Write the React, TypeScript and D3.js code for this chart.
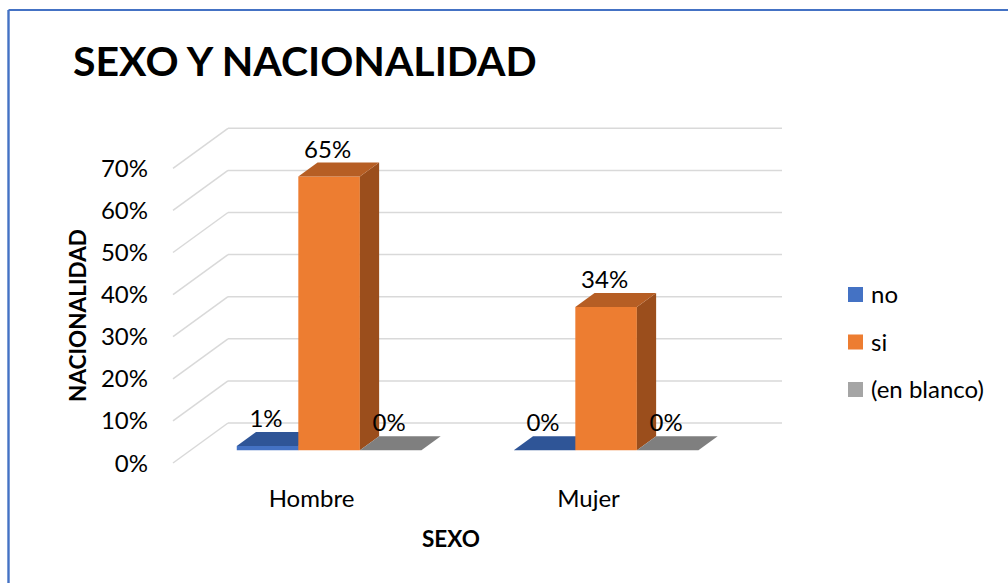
import React from "react";
import * as d3 from "d3";

const categories = ["Hombre", "Mujer"];
const seriesNames = ["no", "si", "(en blanco)"];
const noValues = [0.01, 0.0];
const siValues = [0.65, 0.34];
const blancoValues = [0.0, 0.0];
const tickValues = [0, 0.1, 0.2, 0.3, 0.4, 0.5, 0.6, 0.7];

const W = 1008;
const H = 583;
const FONT = "Lato, 'Open Sans', sans-serif";

const frontColors = ["#4472C4", "#ED7D31", "#A5A5A5"];
const topColors = ["#2F5597", "#B65E24", "#7F7F7F"];
const sideColors = ["#2A4C88", "#9B4E1C", "#6E6E6E"];
const legendColors = ["#4472C4", "#ED7D31", "#A5A5A5"];

export default function App() {
  const values = [noValues, siValues, blancoValues];
  const DX = 55;
  const DY = 40;
  const d1 = 0.32;
  const d2 = 0.67;

  const y = d3.scaleLinear().domain([0, 0.7]).range([463, 168.3]);
  const x = d3.scaleBand<string>().domain(categories).range([173, 727]).padding(0);
  const inner = d3
    .scaleBand<string>()
    .domain(seriesNames)
    .range([0, x.bandwidth()])
    .paddingInner(0)
    .paddingOuter(0.75);

  const proj = (xf: number, v: number, d: number): [number, number] => [xf + DX * d, y(v) - DY * d];
  const pts = (arr: [number, number][]) => arr.map((p) => p.join(",")).join(" ");
  const fmt = d3.format(".0%");

  const bars: React.ReactNode[] = [];
  const labels: React.ReactNode[] = [];
  categories.forEach((cat, ci) => {
    seriesNames.forEach((s, si) => {
      const v = values[si][ci];
      const x0 = (x(cat) as number) + (inner(s) as number);
      const x1 = x0 + inner.bandwidth();
      const a = proj(x0, 0, d1);
      const b = proj(x1, 0, d1);
      const c = proj(x1, v, d1);
      const e = proj(x0, v, d1);
      const a2 = proj(x0, v, d2);
      const b2 = proj(x1, v, d2);
      const bb2 = proj(x1, 0, d2);
      bars.push(
        <g key={`${cat}-${s}`}>
          {v > 0 && <polygon points={pts([a, b, c, e])} fill={frontColors[si]} />}
          {v > 0 && <polygon points={pts([b, bb2, b2, c])} fill={sideColors[si]} />}
          <polygon points={pts([e, c, b2, a2])} fill={topColors[si]} />
        </g>
      );
      const lx = (a[0] + b[0]) / 2 - 1.5;
      const ly = a2[1] - 5;
      labels.push(
        <text key={`l-${cat}-${s}`} x={lx} y={ly} textAnchor="middle" fontFamily={FONT} fontSize={24} fill="#000">
          {fmt(v)}
        </text>
      );
    });
  });

  return (
    <svg width={W} height={H} style={{ position: "absolute", left: 0, top: 0, background: "#fff" }}>
      <rect x={0} y={0} width={W} height={H} fill="#fff" />
      <line x1={8.5} y1={10} x2={W} y2={10} stroke="#4472C4" strokeWidth={2.2} />
      <line x1={8.5} y1={10} x2={8.5} y2={H} stroke="#4472C4" strokeWidth={2.4} />

      <text x={73} y={76} fontFamily={FONT} fontWeight="bold" fontSize={41} fill="#000">
        SEXO Y NACIONALIDAD
      </text>

      {tickValues.map((t) => {
        const f = proj(173, t, 0);
        const bk = proj(173, t, 1);
        const br = proj(727, t, 1);
        return (
          <g key={`g-${t}`}>
            <line x1={f[0]} y1={f[1]} x2={bk[0]} y2={bk[1]} stroke="#D9D9D9" strokeWidth={1.5} />
            <line x1={bk[0]} y1={bk[1]} x2={br[0]} y2={br[1]} stroke="#D9D9D9" strokeWidth={1.5} />
            <text x={148} y={f[1] + 8.5} textAnchor="end" fontFamily={FONT} fontSize={24} fill="#000">
              {fmt(t)}
            </text>
          </g>
        );
      })}

      {bars}
      {labels}

      {categories.map((cat) => (
        <text
          key={`c-${cat}`}
          x={(x(cat) as number) + x.bandwidth() / 2}
          y={507}
          textAnchor="middle"
          fontFamily={FONT}
          fontSize={24}
          fill="#000"
        >
          {cat}
        </text>
      ))}

      <text x={451} y={547} textAnchor="middle" fontFamily={FONT} fontWeight="bold" fontSize={22.5} fill="#000">
        SEXO
      </text>
      <text
        transform={`translate(86,315.5) rotate(-90)`}
        textAnchor="middle"
        fontFamily={FONT}
        fontWeight="bold"
        fontSize={22.5}
        fill="#000"
      >
        NACIONALIDAD
      </text>

      {seriesNames.map((s, i) => (
        <g key={`lg-${s}`}>
          <rect x={848} y={287 + i * 47.5} width={15} height={15} fill={legendColors[i]} />
          <text x={871} y={303 + i * 47.5} fontFamily={FONT} fontSize={24} fill="#000">
            {s}
          </text>
        </g>
      ))}
    </svg>
  );
}
